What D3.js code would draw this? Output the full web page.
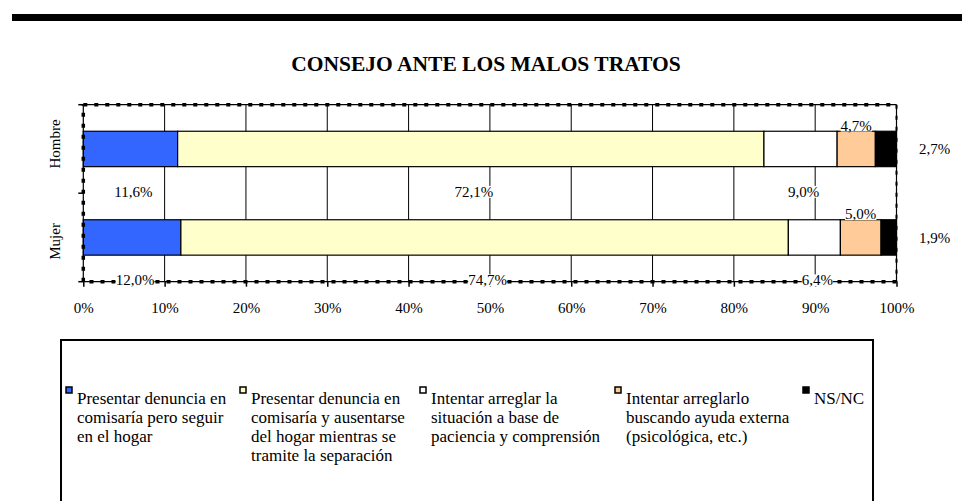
<!DOCTYPE html>
<html>
<head>
<meta charset="utf-8">
<script src="https://cdn.jsdelivr.net/npm/d3@7"></script>
<style>
  body { margin: 0; background: #fff; }
  svg { display: block; font-family: "Liberation Serif", "Times New Roman", serif; }
</style>
</head>
<body>
<div class="vis-barChart"></div>
<script>
// data
var categories = ["Hombre", "Mujer"];
var seriesNames = [
  "Presentar denuncia en comisaría pero seguir en el hogar",
  "Presentar denuncia en comisaría y ausentarse del hogar mientras se tramite la separación",
  "Intentar arreglar la situación a base de paciencia y comprensión",
  "Intentar arreglarlo buscando ayuda externa (psicológica, etc.)",
  "NS/NC"
];
var hombreValues = [11.6, 72.1, 9.0, 4.7, 2.7];
var mujerValues = [12.0, 74.7, 6.4, 5.0, 1.9];
var tickValues = [0, 10, 20, 30, 40, 50, 60, 70, 80, 90, 100];
var legendLines = [
  ["Presentar denuncia en", "comisaría pero seguir", "en el hogar"],
  ["Presentar denuncia en", "comisaría y ausentarse", "del hogar mientras se", "tramite la separación"],
  ["Intentar arreglar la", "situación a base de", "paciencia y comprensión"],
  ["Intentar arreglarlo", "buscando ayuda externa", "(psicológica, etc.)"],
  ["NS/NC"]
];
var colors = ["#3366FF", "#FFFFCC", "#FFFFFF", "#FFCC99", "#000000"];

var width = 973, height = 501;
var plot = {left: 83.3, right: 896.5, top: 104.7, bottom: 281.7};

var svg = d3.select('.vis-barChart').append('svg')
    .attr("width", width)
    .attr("height", height);

// top rule
svg.append("rect").attr("x", 12).attr("y", 14).attr("width", 950).attr("height", 7).attr("fill", "#000");

svg.append("text")
    .attr("x", 486).attr("y", 71)
    .attr("text-anchor", "middle")
    .style("font-size", "21.5px").style("font-weight", "bold")
    .text("CONSEJO ANTE LOS MALOS TRATOS");

var x = d3.scaleLinear().domain([0, 100]).range([plot.left, plot.right]);
var y = d3.scaleBand().domain(categories).range([plot.top, plot.bottom]);
var barH = y.bandwidth() * 0.4;

var rows = categories.map(function(c, i) {
  var vals = i === 0 ? hombreValues : mujerValues;
  var acc = 0;
  return vals.map(function(v, k) {
    var seg = {cat: c, k: k, v: v, x0: acc, x1: acc + v};
    acc += v;
    return seg;
  });
});

// gridlines
svg.selectAll('.grid')
    .data(tickValues.slice(1, -1))
    .enter().append('line')
    .attr("x1", function(d) { return x(d); }).attr("x2", function(d) { return x(d); })
    .attr("y1", plot.top).attr("y2", plot.bottom)
    .attr("stroke", "#000").attr("stroke-width", 1);

// bars
var barY = function(c) { return y(c) + (y.bandwidth() - barH) / 2; };
svg.selectAll('.row')
    .data(rows).enter().append('g')
    .selectAll('rect')
    .data(function(d) { return d; })
    .enter().append('rect')
    .attr("x", function(d) { return x(d.x0); })
    .attr("width", function(d) { return x(Math.min(d.x1, 100)) - x(d.x0); })
    .attr("y", function(d) { return barY(d.cat); })
    .attr("height", barH)
    .attr("fill", function(d) { return colors[d.k]; })
    .attr("stroke", "#000").attr("stroke-width", 1.2);

// plot border: thin line + dashed squares
var border = [[plot.left, plot.top, plot.right, plot.top], [plot.right, plot.top, plot.right, plot.bottom],
              [plot.right, plot.bottom, plot.left, plot.bottom], [plot.left, plot.bottom, plot.left, plot.top]];
border.forEach(function(b, i) {
  svg.append("line").attr("x1", b[0]).attr("y1", b[1]).attr("x2", b[2]).attr("y2", b[3])
     .attr("stroke", "#000").attr("stroke-width", 1.2);
  svg.append("line").attr("x1", b[0]).attr("y1", b[1]).attr("x2", b[2]).attr("y2", b[3])
     .attr("stroke", "#000").attr("stroke-width", i === 1 ? 2 : 3.5).attr("stroke-dasharray", "4,7");
});

// x axis ticks and labels
var xAxis = d3.axisBottom(x).tickValues(tickValues).tickSize(5).tickPadding(16)
    .tickFormat(function(d) { return d + "%"; });
var gx = svg.append("g").attr("transform", "translate(0," + plot.bottom + ")").call(xAxis);
gx.select(".domain").remove();
gx.selectAll("line").attr("stroke", "#000").attr("stroke-width", 1.5);
gx.selectAll("text").style("font-family", "Liberation Serif").style("font-size", "15px").attr("fill", "#000");

// y ticks at band boundaries
svg.selectAll('.ytick')
    .data([plot.top, plot.top + y.step(), plot.bottom])
    .enter().append('line')
    .attr("x1", plot.left - 5).attr("x2", plot.left)
    .attr("y1", function(d) { return d; }).attr("y2", function(d) { return d; })
    .attr("stroke", "#000").attr("stroke-width", 1.5);

svg.selectAll('.ylab')
    .data(categories).enter().append('text')
    .attr("transform", function(d, i) { return "translate(60," + (y(d) + y.bandwidth() / 2 + (i === 0 ? -5 : 4)) + ") rotate(-90)"; })
    .attr("text-anchor", "middle")
    .style("font-size", "15px")
    .text(function(d) { return d; });

// data labels (Excel-like placement)
var fmt = function(v) { return v.toFixed(1).replace(".", ",") + "%"; };
var labels = [];
rows.forEach(function(r) {
  r.forEach(function(d) {
    var cx = x((d.x0 + d.x1) / 2), top = barY(d.cat), lx, ly;
    if (d.k <= 2) { lx = cx + 3; ly = top + barH + 25; }
    else if (d.k === 3) { lx = cx; ly = top - 6; }
    else { lx = plot.right + 38; ly = top + barH / 2; }
    labels.push({t: fmt(d.v), x: lx, y: ly});
  });
});
var lg = svg.selectAll('.dlab').data(labels).enter().append('g')
    .attr("transform", function(d) { return "translate(" + d.x + "," + d.y + ")"; });
lg.append("text")
    .attr("text-anchor", "middle").attr("dy", "0.35em")
    .style("font-size", "15px")
    .text(function(d) { return d.t; });
lg.insert("rect", "text").each(function() {
  var bb = this.parentNode.querySelector("text").getBBox();
  d3.select(this).attr("x", bb.x).attr("y", bb.y + 2).attr("width", bb.width).attr("height", bb.height - 4).attr("fill", "#fff");
});

// legend
svg.append("rect").attr("x", 61).attr("y", 340).attr("width", 812).attr("height", 200)
    .attr("fill", "none").attr("stroke", "#000").attr("stroke-width", 2);
var legendX = [66, 240, 420, 615, 803];
var leg = svg.selectAll('.leg').data(seriesNames).enter().append('g')
    .attr("transform", function(d, i) { return "translate(" + legendX[i] + ",387)"; });
leg.append("rect").attr("width", 6).attr("height", 6)
    .attr("fill", function(d, i) { return colors[i]; })
    .attr("stroke", "#000").attr("stroke-width", 1.5);
leg.append("text")
    .style("font-size", "17px")
    .selectAll("tspan")
    .data(function(d, i) { return legendLines[i]; })
    .enter().append("tspan")
    .attr("x", 11).attr("y", function(d, j) { return 17 + j * 19; })
    .text(function(d) { return d; });
</script>
</body>
</html>
